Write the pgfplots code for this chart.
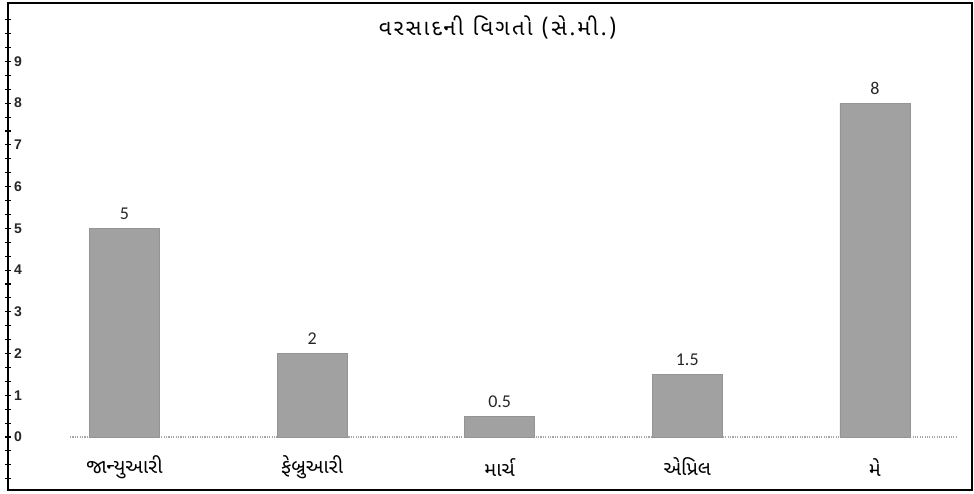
\documentclass[border=0pt]{standalone}
\usepackage{fontspec}
\setmainfont{Liberation Sans}
\newfontfamily\gujfont[Script=Gujarati]{Noto Sans Gujarati UI}
\newfontfamily\gujtitle[Script=Gujarati,LetterSpace=10]{Noto Sans Gujarati UI}
\newfontfamily\carlitofont{Carlito}
\usepackage{pgfplots}
\pgfplotsset{compat=1.18}
\begin{document}
\begin{tikzpicture}[x=1pt,y=1pt]
\begin{axis}[
  scale only axis,
  width=723pt, height=365.25pt,
  xmin=-0.621, xmax=4.518,
  ymin=-1.27, ymax=10.4,
  axis line style={black, line width=1.1pt},
  xtick=\empty,
  ytick={-1,0,...,10},
  yticklabels={,0,1,2,3,4,5,6,7,8,9,},
  minor y tick num=2,
  ytick pos=left,
  tick align=center,
  major tick length=4pt,
  minor tick length=4pt,
  tick style={black, line width=0.8pt},
  yticklabel style={font=\fontsize{10.5}{12}\selectfont\bfseries, anchor=west, xshift=3pt, text=black!85},
  /pgf/number format/assume math mode=true,
  clip=false,
]
\addplot[gray!70, densely dotted, line width=0.8pt] coordinates {(-0.29,0) (4.44,0)};
\addplot[ybar, bar width=0.373, fill=black!37, draw=black!42,
  nodes near coords,
  nodes near coords style={font=\carlitofont\fontsize{13.5}{15}\selectfont, anchor=south, yshift=3pt, text=black!85},
  point meta=explicit symbolic]
  coordinates {(0,5)[5] (1,2)[2] (2,0.5)[0.5] (3,1.5)[1.5] (4,8)[8]};
\node[font=\gujtitle\fontsize{16.5}{19}\selectfont] at (axis cs:1.99,9.82) {વરસાદની વિગતો (સે.મી.)};
\node[font=\gujfont\fontsize{15}{18}\selectfont] at (axis cs:0,-0.72) {જાન્યુઆરી};
\node[font=\gujfont\fontsize{15}{18}\selectfont] at (axis cs:1,-0.72) {ફેબ્રુઆરી};
\node[font=\gujfont\fontsize{15}{18}\selectfont] at (axis cs:2,-0.72) {માર્ચ};
\node[font=\gujfont\fontsize{15}{18}\selectfont] at (axis cs:3,-0.72) {એપ્રિલ};
\node[font=\gujfont\fontsize{15}{18}\selectfont] at (axis cs:4,-0.72) {મે};
\end{axis}
\path ([xshift=-6pt,yshift=-2.25pt]current axis.south west) rectangle ([xshift=1.5pt,yshift=2.25pt]current axis.north east);
\end{tikzpicture}
\end{document}
